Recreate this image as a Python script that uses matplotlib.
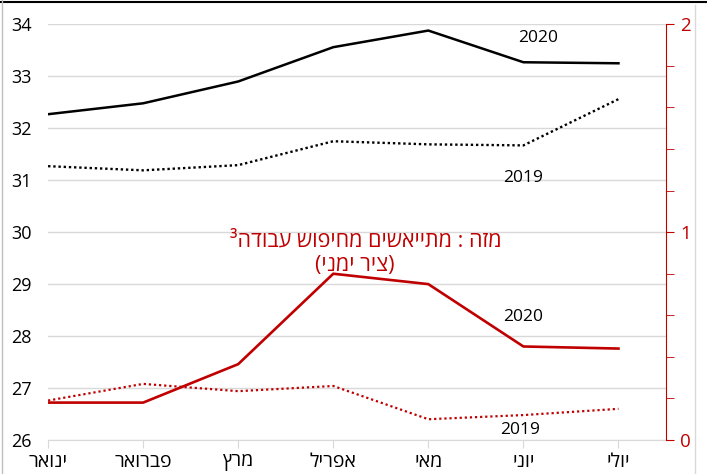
import numpy as np
import matplotlib.pyplot as plt
from matplotlib.lines import Line2D

plt.rcParams['font.family'] = ['Open Sans', 'DejaVu Sans']

# logical (right-to-left) Hebrew strings
months = ['ינואר', 'פברואר', 'מרץ', 'אפריל', 'מאי', 'יוני', 'יולי']
total_2020 = [32.27, 32.48, 32.9, 33.56, 33.88, 33.27, 33.25]
total_2019 = [31.27, 31.19, 31.29, 31.75, 31.69, 31.67, 32.56]
discouraged_2020 = [0.18, 0.18, 0.365, 0.80, 0.75, 0.45, 0.44]
discouraged_2019 = [0.19, 0.27, 0.235, 0.26, 0.10, 0.12, 0.15]
red_label_1 = 'מזה : מתייאשים מחיפוש עבודה'
red_label_2 = '(ציר ימני)'

RED = '#c00000'
GRID = '#d9d9d9'


def vis(s):
    # matplotlib has no bidi, so lay the text out by hand
    s = s[::-1]
    return s.translate(str.maketrans('()', ')('))


x = np.arange(len(months))

fig = plt.figure(figsize=(7.07, 4.74), dpi=100)
ax = fig.add_axes([0.068, 0.0717, 0.874, 0.877])
ax2 = ax.twinx()

ax.plot(x, total_2020, color='black', lw=1.8, solid_joinstyle='round')
ax.plot(x, total_2019, color='black', lw=1.7, linestyle=(0, (1, 1.2)))
ax2.plot(x, discouraged_2020, color=RED, lw=1.9, solid_joinstyle='round')
ax2.plot(x, discouraged_2019, color=RED, lw=1.6, linestyle=(0, (1, 1.3)))

ax.set_xlim(0, 6.5)
ax.set_ylim(26, 34)
ax2.set_ylim(0, 2)

ax.set_yticks(range(26, 35))
ax.yaxis.grid(True, color=GRID, lw=1)
ax.set_axisbelow(True)
ax.tick_params(axis='y', length=0, labelsize=13, pad=12)
ax.set_xticks(x)
ax.set_xticklabels([vis(m) for m in months], fontsize=14)
ax.tick_params(axis='x', length=6, color=GRID, pad=3)

for side in ['left', 'top', 'right']:
    ax.spines[side].set_visible(False)
ax.spines['bottom'].set_color(GRID)

for side in ['left', 'top', 'bottom']:
    ax2.spines[side].set_visible(False)
ax2.spines['right'].set_color(RED)
ax2.set_yticks([0, 1, 2])
ax2.set_yticklabels(['0', '1', '2'], color=RED, fontsize=13.5)
ax2.set_yticks(np.arange(0, 2.01, 0.2), minor=True)
ax2.tick_params(axis='y', which='both', length=6, color=RED, direction='out', pad=4)

ax.text(5.15, 33.74, '2020', fontsize=12.5, ha='center', va='center')
ax.text(5.0, 31.05, '2019', fontsize=12.5, ha='center', va='center')
ax2.text(3.34, 0.955, '³' + vis(red_label_1), color=RED, fontsize=15.5,
         ha='center', va='center')
ax2.text(3.23, 0.84, vis(red_label_2), color=RED, fontsize=15.5,
         ha='center', va='center')
ax2.text(5.0, 0.59, '2020', fontsize=12.5, ha='center', va='center')
ax2.text(4.97, 0.05, '2019', fontsize=12.5, ha='center', va='center')

# page frame visible around the original chart
fig.add_artist(Line2D([0, 1], [0.996, 0.996], color='black', lw=1.5))
fig.add_artist(Line2D([0.003, 0.003], [0, 1], color='#bfbfbf', lw=1))
fig.add_artist(Line2D([0.983, 0.983], [0, 0.99], color='#d9d9d9', lw=1))

fig.savefig('out.png', dpi=100)
